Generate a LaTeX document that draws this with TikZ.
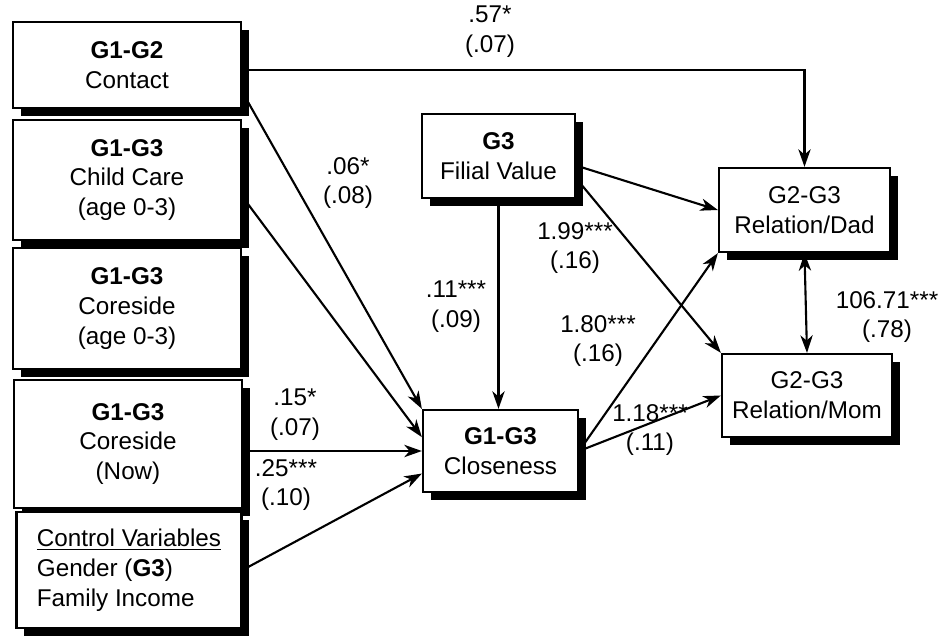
\documentclass[tikz,border=0pt]{standalone}
\usepackage{fontspec}
\setmainfont{Liberation Sans}
\usetikzlibrary{arrows.meta,shadows}

\begin{document}
\begin{tikzpicture}[x=0.02cm, y=-0.02cm,
  every node/.style={font=\fontsize{13.8}{17}\selectfont},
  >={Stealth[length=10pt,width=7pt,inset=3pt]},
  var/.style={draw, line width=1.3pt, fill=white, align=center, inner sep=0pt,
    general shadow={fill=black, shadow xshift=4.5pt, shadow yshift=-4.5pt}},
  coef/.style={align=center, inner sep=0pt},
  link/.style={line width=1.2pt, ->}]
  \useasboundingbox (0,0) rectangle (938,637);

  % left column
  \node[var, minimum width=4.56cm, minimum height=1.72cm] (contact) at (127,65) {\textbf{G1-G2}\\Contact};
  \node[var, minimum width=4.56cm, minimum height=2.40cm] (child) at (127,180) {\textbf{G1-G3}\\Child Care\\(age 0-3)};
  \node[var, minimum width=4.56cm, minimum height=2.42cm] (early) at (127,308.5) {\textbf{G1-G3}\\Coreside\\(age 0-3)};
  \node[var, minimum width=4.56cm, minimum height=2.56cm] (now) at (128,444) {\textbf{G1-G3}\\Coreside\\(Now)};
  \node[var, align=left, minimum width=4.5cm, minimum height=2.32cm] (ctrl) at (129,570) {\underline{Control Variables}\\Gender (\textbf{G3})\\Family Income};

  % middle and right
  \node[var, minimum width=3.06cm, minimum height=1.68cm] (filial) at (498.5,156) {\textbf{G3}\\Filial Value};
  \node[var, minimum width=3.10cm, minimum height=1.64cm] (close) at (500.5,451) {\textbf{G1-G3}\\Closeness};
  \node[var, minimum width=3.42cm, minimum height=1.68cm] (dad) at (804.5,210) {G2-G3\\Relation/Dad};
  \node[var, minimum width=3.40cm, minimum height=1.66cm] (mom) at (807,395.5) {G2-G3\\Relation/Mom};

  % paths
  \draw[link] ([yshift=-3pt]contact.east) -| (dad.north);
  \draw[link] (contact.-13) -- (close.north west);
  \draw[link] (child.-8) -- (close.170);
  \draw[link] (now.east |- close.west) -- (close.west);
  \draw[link] (ctrl.east) -- (close.196);
  \draw[link] (filial.south) -- (filial.south |- close.north);
  \draw[link] (filial.-7) -- (dad.west);
  \draw[link] (filial.-16) -- (mom.north west);
  \draw[link] (close.east) -- (dad.south west);
  \draw[link] (close.east) -- (mom.west);
  \draw[link, <->] (dad.south) -- (mom.north);

  % coefficients
  \node[coef] (c57) at (490,32) {.57*\\(.07)};
  \node[coef] (c06) at (348,183) {.06*\\(.08)};
  \node[coef] (c11) at (456,307) {.11***\\(.09)};
  \node[coef] (c199) at (575,248) {1.99***\\(.16)};
  \node[coef] (c180) at (598,341) {1.80***\\(.16)};
  \node[coef] (c118) at (650,430) {1.18***\\(.11)};
  \node[coef] (c15) at (295,415) {.15*\\(.07)};
  \node[coef] (c25) at (286,485) {.25***\\(.10)};
  \node[coef] (c106) at (887,317) {106.71***\\(.78)};
\end{tikzpicture}
\end{document}
